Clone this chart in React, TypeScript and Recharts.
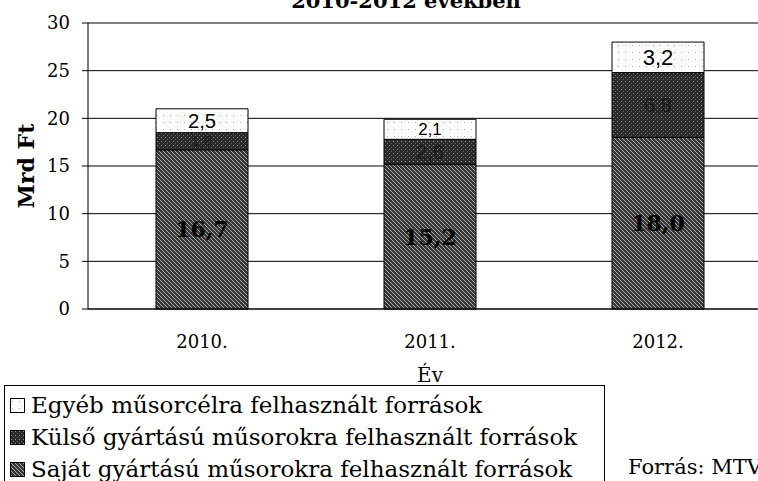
import React from 'react';
import { BarChart, Bar, XAxis, YAxis, CartesianGrid, LabelList } from 'recharts';

const years = ['2010.', '2011.', '2012.'];
const sajat = [16.7, 15.2, 18.0];
const kulso = [1.8, 2.6, 6.8];
const egyeb = [2.5, 2.1, 3.2];
const yTicks = [0, 5, 10, 15, 20, 25, 30];

const sajatName = 'Saját gyártású műsorokra felhasznált források';
const kulsoName = 'Külső gyártású műsorokra felhasznált források';
const egyebName = 'Egyéb műsorcélra felhasznált források';

const data = years.map((year, i) => ({ year, sajat: sajat[i], kulso: kulso[i], egyeb: egyeb[i] }));

// legend reads top-down: egyeb, kulso, sajat
const legendItems = [
    { name: egyebName, fill: 'url(#pat-egyeb)' },
    { name: kulsoName, fill: 'url(#pat-kulso)' },
    { name: sajatName, fill: 'url(#pat-sajat)' },
];

const serif = '"DejaVu Serif", serif';
const sans = '"Liberation Sans", Arial, sans-serif';

const fmt = (v: number) => v.toFixed(1).replace('.', ',');

// label centred in each stacked segment, shrinks on thin segments
const makeLabel = (font: string, size: number, weight: string | number, color: string) => (props: any) => {
    const { x, y, width, height, value } = props;
    const fs = Math.min(size, height * 0.85);
    return (
        <text
            x={x + width / 2}
            y={y + height / 2}
            textAnchor="middle"
            dominantBaseline="central"
            fontFamily={font}
            fontSize={fs}
            fontWeight={weight}
            fill={color}
        >
            {fmt(value)}
        </text>
    );
};

const Patterns = () => (
    <svg width={0} height={0} style={{ position: 'absolute', left: 0, top: 0 }}>
        <defs>
            <pattern id="pat-sajat" patternUnits="userSpaceOnUse" width={4} height={4}>
                <rect width={4} height={4} fill="#383838" />
                <path d="M-1,-1 L5,5 M-1,3 L1,5 M3,-1 L5,1" stroke="#a8a8a8" strokeWidth={1} />
            </pattern>
            <pattern id="pat-kulso" patternUnits="userSpaceOnUse" width={4} height={4}>
                <rect width={4} height={4} fill="#2a2a2a" />
                <rect x={1} y={1} width={1} height={1} fill="#9a9a9a" />
                <rect x={3} y={3} width={1} height={1} fill="#6a6a6a" />
            </pattern>
            <pattern id="pat-egyeb" patternUnits="userSpaceOnUse" width={7} height={7}>
                <rect width={7} height={7} fill="#fff" />
                <rect x={2} y={3} width={1} height={1} fill="#aaa" />
            </pattern>
        </defs>
    </svg>
);

const App: React.FC = () => {
    React.useEffect(() => {
        document.body.style.margin = '0';
    }, []);

    return (
        <div style={{ position: 'absolute', left: 0, top: 0, width: 758, height: 481, overflow: 'hidden', background: '#fff' }}>
            <Patterns />
            <div style={{ position: 'absolute', left: 0, top: 0 }}>
                <BarChart width={790} height={481} data={data} margin={{ top: 23, right: 18, left: 0, bottom: 100 }}>
                    <CartesianGrid vertical={false} stroke="#000" strokeWidth={1} />
                    <XAxis
                        dataKey="year"
                        height={72}
                        axisLine={{ stroke: '#000' }}
                        tickLine={false}
                        tickSize={0}
                        tickMargin={26}
                        tick={{ fill: '#000', fontFamily: serif, fontSize: 18 }}
                        label={{ value: 'Év', position: 'insideBottom', offset: -1, fill: '#000', fontFamily: serif, fontSize: 20 }}
                    />
                    <YAxis
                        width={88}
                        domain={[0, 30]}
                        ticks={yTicks}
                        interval={0}
                        axisLine={{ stroke: '#000' }}
                        tickLine={{ stroke: '#000' }}
                        tickSize={6}
                        tickMargin={12}
                        tick={{ fill: '#000', fontFamily: serif, fontSize: 18 }}
                        label={{
                            content: (p: any) => {
                                const vb = p.viewBox || {};
                                const cy = (vb.y || 0) + (vb.height || 0) / 2;
                                return (
                                    <text
                                        x={26}
                                        y={cy}
                                        transform={`rotate(-90, 26, ${cy})`}
                                        textAnchor="middle"
                                        dominantBaseline="central"
                                        fontFamily={serif}
                                        fontWeight="bold"
                                        fontSize={22}
                                        fill="#000"
                                    >
                                        Mrd Ft
                                    </text>
                                );
                            },
                        }}
                    />
                    <Bar dataKey="sajat" name={sajatName} stackId="a" fill="url(#pat-sajat)" stroke="#000" strokeWidth={1} barSize={92} isAnimationActive={false}>
                        <LabelList dataKey="sajat" content={makeLabel(serif, 22, 'bold', '#000')} />
                    </Bar>
                    <Bar dataKey="kulso" name={kulsoName} stackId="a" fill="url(#pat-kulso)" stroke="#000" strokeWidth={1} barSize={92} isAnimationActive={false}>
                        <LabelList dataKey="kulso" content={makeLabel(sans, 20, 'normal', '#1a1a1a')} />
                    </Bar>
                    <Bar dataKey="egyeb" name={egyebName} stackId="a" fill="url(#pat-egyeb)" stroke="#000" strokeWidth={1} barSize={92} isAnimationActive={false}>
                        <LabelList dataKey="egyeb" content={makeLabel(sans, 22, 'normal', '#000')} />
                    </Bar>
                </BarChart>
            </div>
            <div
                style={{
                    position: 'absolute',
                    left: 0,
                    top: -10,
                    width: 812,
                    zIndex: 2,
                    textAlign: 'center',
                    fontFamily: serif,
                    fontWeight: 'bold',
                    fontSize: 21,
                    lineHeight: '21px',
                    whiteSpace: 'nowrap',
                    color: '#000',
                }}
            >
                2010-2012 években
            </div>
            <div
                style={{
                    position: 'absolute',
                    left: 4,
                    top: 385,
                    width: 601,
                    height: 110,
                    zIndex: 2,
                    border: '1px solid #000',
                    boxSizing: 'border-box',
                    padding: '3px 0 0 5px',
                    fontFamily: serif,
                    fontSize: 23,
                    background: '#fff',
                    color: '#000',
                }}
            >
                {legendItems.map((item) => (
                    <div key={item.name} style={{ display: 'flex', alignItems: 'center', height: 32, whiteSpace: 'nowrap' }}>
                        <svg width={15} height={15} style={{ marginRight: 6, flex: 'none' }}>
                            <rect x={0.5} y={0.5} width={14} height={14} fill={item.fill} stroke="#000" />
                        </svg>
                        <span>{item.name}</span>
                    </div>
                ))}
            </div>
            <div
                style={{
                    position: 'absolute',
                    left: 628,
                    top: 457,
                    zIndex: 2,
                    fontFamily: serif,
                    fontSize: 21,
                    lineHeight: '21px',
                    whiteSpace: 'nowrap',
                    color: '#000',
                }}
            >
                Forrás: MTVA
            </div>
        </div>
    );
};

export default App;
